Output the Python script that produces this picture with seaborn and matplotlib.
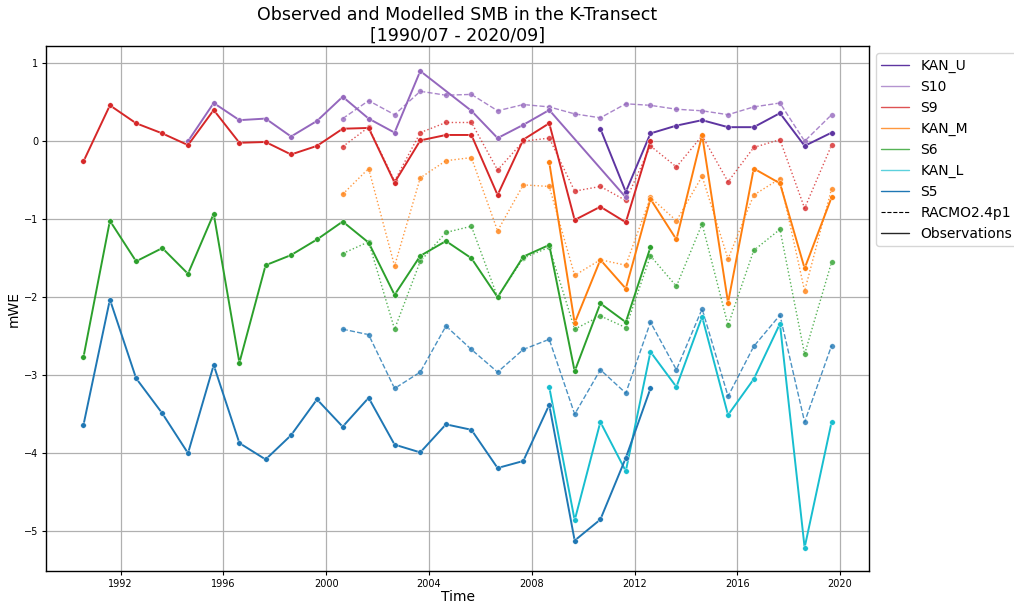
import numpy as np
import pandas as pd
import matplotlib
matplotlib.use("Agg")
import matplotlib.pyplot as plt
from matplotlib.lines import Line2D
import seaborn as sns

nan = np.nan

# Decimal-year timestamps of the annual balance measurements
years = [1990.55, 1991.58, 1992.60, 1993.62, 1994.62, 1995.62, 1996.62, 1997.64,
         1998.63, 1999.64, 2000.64, 2001.65, 2002.66, 2003.66, 2004.66, 2005.65,
         2006.67, 2007.67, 2008.68, 2009.67, 2010.67, 2011.66, 2012.62, 2013.63,
         2014.63, 2015.64, 2016.64, 2017.66, 2018.62, 2019.67]

# Observed surface mass balance (m w.e.)
kan_u_obs = [nan] * 20 + [0.16, -0.65, 0.10, 0.20, 0.27, 0.18, 0.18, 0.36, -0.06, 0.11]
s10_obs = [nan] * 4 + [0.00, 0.49, 0.27, 0.29, 0.06, 0.26, 0.57, 0.29, 0.11, 0.90,
                       nan, 0.39, 0.04, 0.21, 0.40, nan, nan, -0.72] + [nan] * 8
s9_obs = [-0.26, 0.46, 0.23, 0.10, -0.05, 0.40, -0.02, -0.01, -0.17, -0.06, 0.16,
          0.17, -0.53, 0.01, 0.08, 0.08, -0.69, 0.02, 0.23, -1.01, -0.84, -1.04,
          0.00] + [nan] * 7
kan_m_obs = [nan] * 18 + [-0.27, -2.33, -1.52, -1.89, -0.74, -1.26, 0.08, -2.07,
                          -0.35, -0.54, -1.63, -0.72]
s6_obs = [-2.77, -1.02, -1.54, -1.37, -1.70, -0.93, -2.84, -1.59, -1.46, -1.26,
          -1.03, -1.30, -1.97, -1.47, -1.28, -1.50, -2.00, -1.48, -1.33, -2.95,
          -2.08, -2.32, -1.36] + [nan] * 7
kan_l_obs = [nan] * 18 + [-3.15, -4.86, -3.60, -4.23, -2.70, -3.15, -2.25, -3.51,
                          -3.05, -2.34, -5.21, -3.60]
s5_obs = [-3.64, -2.03, -3.04, -3.49, -4.00, -2.87, -3.87, -4.08, -3.77, -3.31,
          -3.66, -3.29, -3.89, -3.99, -3.63, -3.70, -4.19, -4.10, -3.38, -5.12,
          -4.85, -4.06, -3.17] + [nan] * 7

# RACMO2.4p1 modelled surface mass balance (m w.e.)
s10_mod = [nan] * 10 + [0.29, 0.52, 0.34, 0.64, 0.59, 0.60, 0.39, 0.47, 0.44, 0.35,
                        0.30, 0.48, 0.46, 0.41, 0.39, 0.34, 0.44, 0.49, 0.00, 0.34]
s9_mod = [nan] * 10 + [-0.07, 0.18, -0.51, 0.11, 0.24, 0.24, -0.37, 0.00, 0.04, -0.64,
                       -0.58, -0.76, -0.06, -0.33, 0.07, -0.52, -0.08, 0.02, -0.86, -0.05]
kan_m_mod = [nan] * 10 + [-0.68, -0.35, -1.60, -0.47, -0.25, -0.21, -1.15, -0.56, -0.58,
                          -1.72, -1.52, -1.59, -0.72, -1.02, -0.45, -1.51, -0.69, -0.48,
                          -1.92, -0.61]
s6_mod = [nan] * 10 + [-1.44, -1.29, -2.41, -1.54, -1.17, -1.09, -2.00, -1.50, -1.36,
                       -2.41, -2.24, -2.39, -1.47, -1.86, -1.06, -2.36, -1.40, -1.13,
                       -2.73, -1.55]
s5_mod = [nan] * 10 + [-2.41, -2.48, -3.17, -2.96, -2.37, -2.67, -2.96, -2.67, -2.54,
                       -3.50, -2.93, -3.23, -2.32, -2.93, -2.15, -3.27, -2.63, -2.23,
                       -3.60, -2.62]

sites = ["KAN_U", "S10", "S9", "KAN_M", "S6", "KAN_L", "S5"]
site_colors = {
    "KAN_U": "#5e35a1",
    "S10": "#9467bd",
    "S9": "#d62728",
    "KAN_M": "#ff7f0e",
    "S6": "#2ca02c",
    "KAN_L": "#17becf",
    "S5": "#1f77b4",
}
legend_alpha = {"KAN_U": 1.0, "S10": 0.7, "S9": 0.8, "KAN_M": 0.8,
                "S6": 0.8, "KAN_L": 0.7, "S5": 1.0}
observed = {"KAN_U": kan_u_obs, "S10": s10_obs, "S9": s9_obs, "KAN_M": kan_m_obs,
            "S6": s6_obs, "KAN_L": kan_l_obs, "S5": s5_obs}
modelled = {"S10": (s10_mod, "--"), "S9": (s9_mod, ":"), "KAN_M": (kan_m_mod, ":"),
            "S6": (s6_mod, ":"), "S5": (s5_mod, "--")}

records = []
for site, vals in observed.items():
    for yr, v in zip(years, vals):
        records.append({"year": yr, "smb": v, "site": site, "source": "obs"})
for site, (vals, _) in modelled.items():
    for yr, v in zip(years, vals):
        records.append({"year": yr, "smb": v, "site": site, "source": "racmo"})
df = pd.DataFrame(records).dropna()

sns.set_style("ticks")
plt.rcParams["font.family"] = ["DejaVu Sans"]
plt.rcParams["text.color"] = "black"
plt.rcParams["axes.labelcolor"] = "black"
plt.rcParams["xtick.color"] = "black"
plt.rcParams["ytick.color"] = "black"

fig = plt.figure(figsize=(10.14, 6.06), dpi=100)
ax = fig.add_axes([0.0454, 0.0578, 0.8116, 0.8662])

# Modelled series first (thin dashed / dotted), then the observations on top
for site, (_, ls) in modelled.items():
    sub = df[(df.site == site) & (df.source == "racmo")]
    sns.lineplot(data=sub, x="year", y="smb", ax=ax, color=site_colors[site],
                 linestyle=ls, linewidth=1.0, alpha=0.8, marker="o",
                 markersize=4, markeredgewidth=0.3, sort=True, legend=False)
for site in sites:
    sub = df[(df.site == site) & (df.source == "obs")]
    sns.lineplot(data=sub, x="year", y="smb", ax=ax, color=site_colors[site],
                 linewidth=1.4, marker="o", markersize=4, markeredgewidth=0.3,
                 sort=True, legend=False)

ax.set_xticks([1992, 1996, 2000, 2004, 2008, 2012, 2016, 2020])
ax.set_xticklabels(["1992", "1996", "2000", "2004", "2008", "2012", "2016", "2020"])
ax.set_yticks([-5, -4, -3, -2, -1, 0, 1])
ax.tick_params(axis="both", labelsize=7, length=3, width=0.8, pad=2.5,
               direction="out")
ax.margins(x=0.05)
ax.set_ylim(-5.51, 1.22)
ax.grid(True, color="#b0b0b0", linewidth=0.9)
ax.set_axisbelow(True)
for sp in ax.spines.values():
    sp.set_color("black")
    sp.set_linewidth(1.0)

ax.set_xlabel("Time", fontsize=10, labelpad=1)
ax.set_ylabel("mWE", fontsize=10, labelpad=2)
ax.set_title("Observed and Modelled SMB in the K-Transect\n[1990/07 - 2020/09]",
             fontsize=12.5, pad=4)

handles = [Line2D([0], [0], color=site_colors[s], lw=1.0, alpha=legend_alpha[s])
           for s in sites]
handles.append(Line2D([0], [0], color="black", lw=0.8, ls="--"))
handles.append(Line2D([0], [0], color="black", lw=1.0, alpha=0.85))
labels = sites + ["RACMO2.4p1", "Observations"]
ax.legend(handles, labels, loc="upper left", bbox_to_anchor=(1.0, 1.0),
          fontsize=10, frameon=True)

fig.savefig("out.png", dpi=100)
